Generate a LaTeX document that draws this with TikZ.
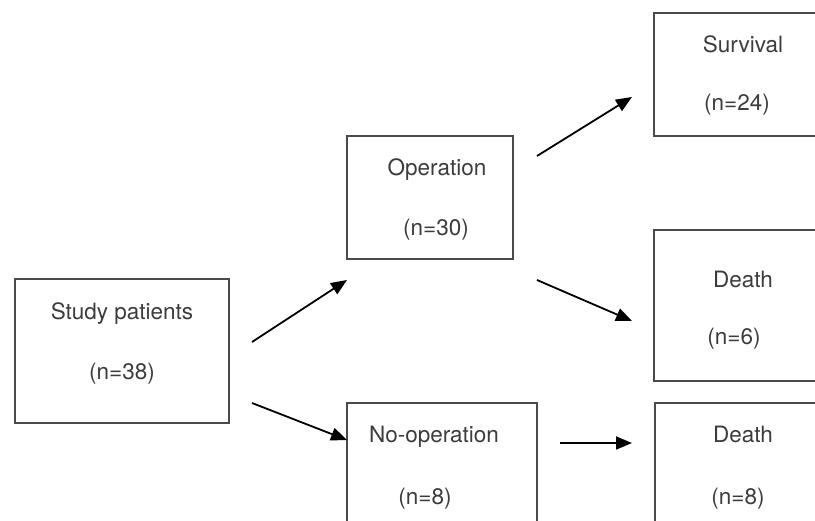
\documentclass[tikz,border=0pt]{standalone}
\usepackage{fontspec}
\setmainfont{TeX Gyre Heros}
\usetikzlibrary{arrows.meta}
\definecolor{boxgray}{HTML}{4A4A4A}
\definecolor{txtgray}{HTML}{3C3C3C}
\begin{document}
\begin{tikzpicture}[x=1pt,y=-1pt,
  box/.style={draw=boxgray, line width=1.6pt, rectangle, inner sep=0pt},
  lbl/.style={font=\fontsize{22.5}{26}\selectfont, text=txtgray, inner sep=0pt, text height=16pt, text depth=0pt},
  arr/.style={line width=1.8pt, -{Triangle[length=16pt,width=13pt]}}]
\useasboundingbox (0,0) rectangle (815,521);
\clip (0,0) rectangle (815,521);
% boxes
\node[box, minimum width=214pt, minimum height=144pt] (study) at (122,351) {};
\node[box, minimum width=166pt, minimum height=123pt] (oper) at (430,197.5) {};
\node[box, minimum width=190pt, minimum height=157pt] (noop) at (442,481.5) {};
\node[box, minimum width=186pt, minimum height=123pt] (surv) at (747,74.5) {};
\node[box, minimum width=186pt, minimum height=151pt] (death6) at (747,305.5) {};
\node[box, minimum width=185pt, minimum height=157pt] (death8) at (747.5,481.5) {};
% labels
\node[lbl] (t1a) at (122,312) {Study patients};
\node[lbl] (t1b) at (122,372) {(n=38)};
\node[lbl] (t2a) at (437,168) {Operation};
\node[lbl] (t2b) at (436,228) {(n=30)};
\node[lbl] (t3a) at (434,435) {No-operation};
\node[lbl] (t3b) at (425,497) {(n=8)};
\node[lbl] (t4a) at (743,45) {Survival};
\node[lbl] (t4b) at (737,103) {(n=24)};
\node[lbl] (t5a) at (743,280) {Death};
\node[lbl] (t5b) at (734,337) {(n=6)};
\node[lbl] (t6a) at (743,435) {Death};
\node[lbl] (t6b) at (738,497) {(n=8)};
% arrow endpoints
\coordinate (a1s) at (252,342); \coordinate (a1e) at (347,280);
\coordinate (a2s) at (252,403); \coordinate (a2e) at (347,440);
\coordinate (a3s) at (537,156); \coordinate (a3e) at (632,97);
\coordinate (a4s) at (537,280); \coordinate (a4e) at (632,321);
\coordinate (a5s) at (560,443); \coordinate (a5e) at (632,443);
\draw[arr] (a1s) -- (a1e);
\draw[arr] (a2s) -- (a2e);
\draw[arr] (a3s) -- (a3e);
\draw[arr] (a4s) -- (a4e);
\draw[arr] (a5s) -- (a5e);
\end{tikzpicture}
\end{document}
